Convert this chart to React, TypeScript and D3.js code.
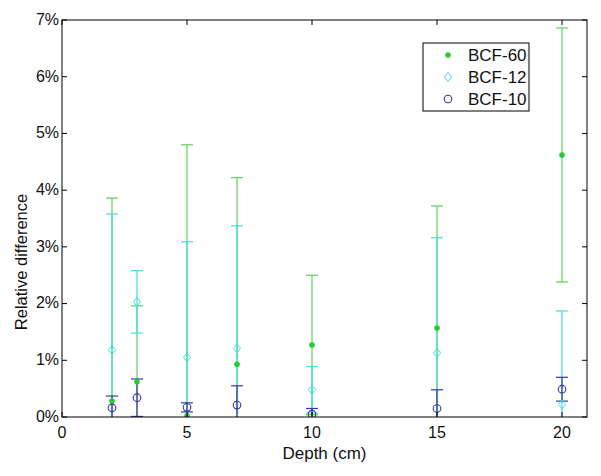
import * as d3 from "d3";

const depth = [2, 3, 5, 7, 10, 15, 20];
const bcf60 = [0.28, 0.62, 0.02, 0.93, 1.27, 1.57, 4.62];
const bcf60Err = [3.58, 1.34, 4.78, 3.29, 1.23, 2.15, 2.24];
const bcf12 = [1.18, 2.03, 1.05, 1.21, 0.48, 1.13, 0.22];
const bcf12Err = [2.4, 0.55, 2.04, 2.16, 0.41, 2.03, 1.65];
const bcf10 = [0.16, 0.34, 0.17, 0.21, 0.05, 0.15, 0.49];
const bcf10Err = [0.21, 0.33, 0.08, 0.34, 0.1, 0.33, 0.21];

const xTicks = [0, 5, 10, 15, 20];
const yTicks = [0, 1, 2, 3, 4, 5, 6, 7];

const seriesNames = ["BCF-60", "BCF-12", "BCF-10"];

const WIDTH = 601;
const HEIGHT = 476;
const MARGIN = { top: 20, right: 14, bottom: 59, left: 62 };
const FONT = "Arial, 'Liberation Sans', Helvetica, sans-serif";

const series = [
  { name: seriesNames[0], mean: bcf60, err: bcf60Err, color: "#22cc33", line: "#5cd25c", marker: "dot" },
  { name: seriesNames[1], mean: bcf12, err: bcf12Err, color: "#44dcdc", line: "#44dcdc", marker: "diamond" },
  { name: seriesNames[2], mean: bcf10, err: bcf10Err, color: "#3a35a8", line: "#3a35a8", marker: "circle" },
];

const Marker = ({ kind, x, y, color }: { kind: string; x: number; y: number; color: string }) => {
  if (kind === "dot") return <circle cx={x} cy={y} r={2.8} fill={color} />;
  if (kind === "diamond")
    return (
      <path
        d={`M${x},${y - 4.5}L${x + 3.5},${y}L${x},${y + 4.5}L${x - 3.5},${y}Z`}
        fill="none"
        stroke={color}
        strokeWidth={1}
      />
    );
  return <circle cx={x} cy={y} r={3.8} fill="none" stroke={color} strokeWidth={1.1} />;
};

export default function App() {
  const boundsWidth = WIDTH - MARGIN.left - MARGIN.right;
  const boundsHeight = HEIGHT - MARGIN.top - MARGIN.bottom;

  const xScale = d3.scaleLinear().domain([0, 21]).range([0, boundsWidth]);
  const yScale = d3.scaleLinear().domain([0, 7]).range([boundsHeight, 0]);

  const cap = 6;
  const tick = 5;

  // error bar lines first (green, cyan, blue), then markers on top
  const bars = series.map((s, si) =>
    depth.map((d, i) => {
      const x = xScale(d);
      const hi = yScale(s.mean[i] + s.err[i]);
      const lo = yScale(s.mean[i] - s.err[i]);
      return (
        <g key={`${si}-${i}`} stroke={s.line} strokeWidth={1.2}>
          <line x1={x} x2={x} y1={hi} y2={lo} />
          <line x1={x - cap} x2={x + cap} y1={hi} y2={hi} />
          <line x1={x - cap} x2={x + cap} y1={lo} y2={lo} />
        </g>
      );
    })
  );

  const markers = series.map((s, si) =>
    depth.map((d, i) => (
      <Marker key={`m${si}-${i}`} kind={s.marker} x={xScale(d)} y={yScale(s.mean[i])} color={s.color} />
    ))
  );

  return (
    <svg
      width={WIDTH}
      height={HEIGHT}
      style={{ position: "absolute", left: 0, top: 0, background: "#fff" }}
      fontFamily={FONT}
    >
      <defs>
        <clipPath id="plot">
          <rect x={0} y={0} width={boundsWidth} height={boundsHeight} />
        </clipPath>
      </defs>
      <g transform={`translate(${MARGIN.left},${MARGIN.top})`}>
        <g clipPath="url(#plot)">
          {bars}
          {markers}
        </g>
        <rect x={0} y={0} width={boundsWidth} height={boundsHeight} fill="none" stroke="#000" strokeWidth={1} />
        {yTicks.map((t) => (
          <g key={`y${t}`}>
            <line x1={0} x2={tick} y1={yScale(t)} y2={yScale(t)} stroke="#000" />
            <line x1={boundsWidth - tick} x2={boundsWidth} y1={yScale(t)} y2={yScale(t)} stroke="#000" />
            <text x={-3} y={yScale(t)} dy="0.3em" textAnchor="end" fontSize={16} fill="#111">
              {`${t}%`}
            </text>
          </g>
        ))}
        {xTicks.map((t) => (
          <g key={`x${t}`}>
            <line x1={xScale(t)} x2={xScale(t)} y1={boundsHeight} y2={boundsHeight - tick} stroke="#000" />
            <line x1={xScale(t)} x2={xScale(t)} y1={0} y2={tick} stroke="#000" />
            <text x={xScale(t)} y={boundsHeight + 21} textAnchor="middle" fontSize={16} fill="#111">
              {t}
            </text>
          </g>
        ))}
        <text
          x={boundsWidth / 2}
          y={boundsHeight + 42}
          textAnchor="middle"
          fontSize={17}
          fill="#111"
        >
          Depth (cm)
        </text>
        <text
          transform={`translate(${-35},${242}) rotate(-90)`}
          textAnchor="middle"
          fontSize={16.5}
          fill="#111"
        >
          Relative difference
        </text>
        <g transform="translate(361,23)">
          <rect x={0} y={0} width={106} height={68} fill="#fff" stroke="#000" strokeWidth={1} />
          {series.map((s, i) => (
            <g key={s.name} transform={`translate(0,${12 + i * 22})`}>
              <Marker kind={s.marker} x={25} y={0} color={s.color} />
              <text x={45} y={0} dy="0.35em" fontSize={17} fill="#111">
                {s.name}
              </text>
            </g>
          ))}
        </g>
      </g>
    </svg>
  );
}
